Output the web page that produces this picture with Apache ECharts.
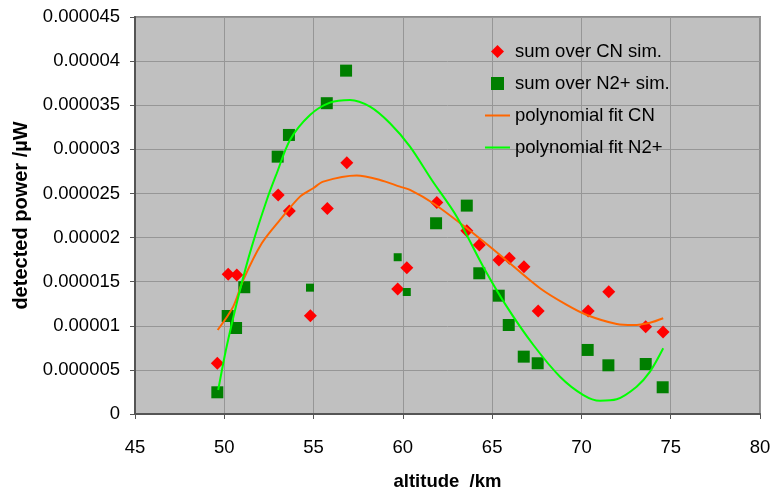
<!DOCTYPE html>
<html lang="en">
<head>
    <meta charset="UTF-8">
    <title>detected power vs altitude</title>
    <script src="https://cdn.jsdelivr.net/npm/echarts@6/dist/echarts.min.js"></script>
    <style>
        body { margin: 0; background: #fff; }
    </style>
</head>
<body>
    <div id="main" style="width: 772px; height: 492px;"></div>
    <script type="text/javascript">
        // altitude (km) / detected power (uW) pairs
        const cnX = [49.61, 50.22, 50.70, 53.02, 53.64, 54.82, 55.77, 56.86, 59.71, 60.22, 61.90,
                     63.58, 64.28, 65.38, 65.96, 66.78, 67.58, 70.38, 71.53, 73.60, 74.57];
        const cnY = [5.75e-6, 15.84e-6, 15.76e-6, 24.83e-6, 23.02e-6, 11.15e-6, 23.28e-6, 28.49e-6, 14.17e-6, 16.59e-6, 23.96e-6,
                     20.78e-6, 19.16e-6, 17.46e-6, 17.65e-6, 16.70e-6, 11.68e-6, 11.68e-6, 13.87e-6, 9.90e-6, 9.30e-6];

        const n2X = [49.61, 50.19, 50.66, 51.12, 52.99, 53.62, 55.74, 56.82, 61.86, 63.58, 64.28,
                     65.37, 65.93, 66.77, 67.55, 70.35, 71.51, 73.60, 74.55];
        const n2Y = [2.46e-6, 11.11e-6, 9.75e-6, 14.37e-6, 29.17e-6, 31.63e-6, 35.23e-6, 38.92e-6, 21.62e-6, 23.62e-6, 15.95e-6,
                     13.41e-6, 10.09e-6, 6.50e-6, 5.75e-6, 7.26e-6, 5.52e-6, 5.67e-6, 3.03e-6];

        // the three little squares
        const n2SmallX = [54.80, 59.71, 60.22];
        const n2SmallY = [14.32e-6, 17.77e-6, 13.83e-6];

        // points
        const fitCnX = [49.63, 50.50, 51.06, 52.10, 53.12, 54.24, 54.98, 55.54, 57.41, 58.72, 59.84,
                        60.40, 61.70, 63.58, 65.44, 67.68, 69.18, 70.30, 71.98, 72.91, 73.84, 74.58];
        const fitCnY = [9.52e-6, 12.17e-6, 15.19e-6, 19.35e-6, 22.0e-6, 24.64e-6, 25.59e-6, 26.34e-6, 27.02e-6, 26.53e-6, 25.77e-6,
                        25.40e-6, 23.89e-6, 21.05e-6, 18.03e-6, 14.25e-6, 12.36e-6, 11.22e-6, 10.20e-6, 10.09e-6, 10.35e-6, 10.85e-6];

        const fitN2X = [49.66, 50.13, 50.88, 51.54, 52.38, 52.94, 53.68, 54.80, 55.92, 57.04, 58.16, 59.28,
                        60.40, 61.62, 63.02, 64.50, 65.82, 67.31, 68.80, 70.11, 71.04, 71.97, 73.09, 73.84, 74.58];
        const fitN2Y = [2.72e-6, 7.63e-6, 14.06e-6, 18.97e-6, 24.26e-6, 27.29e-6, 31.07e-6, 33.90e-6, 35.30e-6, 35.60e-6, 34.84e-6, 32.96e-6,
                        30.31e-6, 26.53e-6, 22.37e-6, 16.70e-6, 12.17e-6, 7.82e-6, 4.23e-6, 2.15e-6, 1.51e-6, 1.67e-6, 3.10e-6, 4.80e-6, 7.45e-6];

        const yTickLabels = ['0', '0.000005', '0.00001', '0.000015', '0.00002', '0.000025',
                             '0.00003', '0.000035', '0.00004', '0.000045'];

        const zip = (xs, ys) => xs.map((x, i) => [x, ys[i]]);
        const font = 'Liberation Sans, Arial, sans-serif';

        // legend icons as paths so they keep their shape
        const diamondIcon = 'path://M0,6L6,0L12,6L6,12Z';
        const squareIcon = 'path://M0,0H12V12H0Z';
        const lineIcon = 'path://M0,0H25V2H0Z';

        let myChart = echarts.init(document.getElementById('main'));

        let options = {
            animation: false,
            textStyle: { fontFamily: font },
            grid: {
                left: 135, right: 12, top: 17, bottom: 78,
                outerBoundsMode: 'none',
                show: true,
                backgroundColor: '#c0c0c0',
                borderColor: '#8c8c8c',
                borderWidth: 2
            },
            legend: {
                orient: 'vertical',
                left: 480,
                top: 37,
                itemWidth: 25,
                itemHeight: 13,
                itemGap: 13,
                symbolKeepAspect: true,
                textStyle: { fontFamily: font, fontSize: 18.5, color: '#000' },
                data: [
                    { name: 'sum over CN sim.', icon: diamondIcon },
                    { name: 'sum over N2+ sim.', icon: squareIcon },
                    { name: 'polynomial fit CN', icon: lineIcon },
                    { name: 'polynomial fit N2+', icon: lineIcon }
                ]
            },
            xAxis: {
                type: 'value',
                min: 45, max: 80, interval: 5,
                name: 'altitude  /km',
                nameLocation: 'middle',
                nameGap: 58,
                nameTextStyle: { fontFamily: font, fontSize: 18.5, fontWeight: 'bold', color: '#000' },
                axisLine: { show: true, onZero: false, lineStyle: { color: '#555', width: 2 } },
                axisTick: { show: true, length: 5, lineStyle: { color: '#555' } },
                axisLabel: { margin: 24, fontSize: 18.5, color: '#000', fontFamily: font },
                splitLine: { show: true, lineStyle: { color: '#969696', width: 1 } }
            },
            yAxis: {
                type: 'value',
                min: 0, max: 4.5e-5, interval: 5e-6,
                name: 'detected power /µW',
                nameLocation: 'middle',
                nameGap: 102,
                nameTextStyle: { fontFamily: font, fontSize: 20, fontWeight: 'bold', color: '#000' },
                axisLine: { show: true, lineStyle: { color: '#555', width: 2 } },
                axisTick: { show: true, length: 5, lineStyle: { color: '#555' } },
                axisLabel: {
                    margin: 15, fontSize: 18.5, color: '#000', fontFamily: font,
                    formatter: (v) => yTickLabels[Math.round(v / 5e-6)]
                },
                splitLine: { show: true, lineStyle: { color: '#969696', width: 1 } }
            },
            series: [
                {
                    name: 'sum over CN sim.',
                    type: 'scatter',
                    symbol: 'diamond',
                    symbolSize: 13,
                    itemStyle: { color: '#ff0000', opacity: 1 },
                    data: zip(cnX, cnY)
                },
                {
                    name: 'sum over N2+ sim.',
                    type: 'scatter',
                    symbol: 'rect',
                    symbolSize: 12,
                    itemStyle: { color: '#007f00', opacity: 1 },
                    data: zip(n2X, n2Y)
                },
                {
                    name: 'sum over N2+ sim.',
                    type: 'scatter',
                    symbol: 'rect',
                    symbolSize: 8,
                    itemStyle: { color: '#007f00', opacity: 1 },
                    data: zip(n2SmallX, n2SmallY)
                },
                {
                    name: 'polynomial fit CN',
                    type: 'line',
                    symbol: 'none',
                    smooth: 0.3,
                    lineStyle: { color: '#ff6600', width: 2 },
                    itemStyle: { color: '#ff6600' },
                    data: zip(fitCnX, fitCnY)
                },
                {
                    name: 'polynomial fit N2+',
                    type: 'line',
                    symbol: 'none',
                    smooth: 0.3,
                    lineStyle: { color: '#00ff00', width: 2 },
                    itemStyle: { color: '#00ff00' },
                    data: zip(fitN2X, fitN2Y)
                }
            ]
        };

        myChart.setOption(options);
    </script>
</body>
</html>
